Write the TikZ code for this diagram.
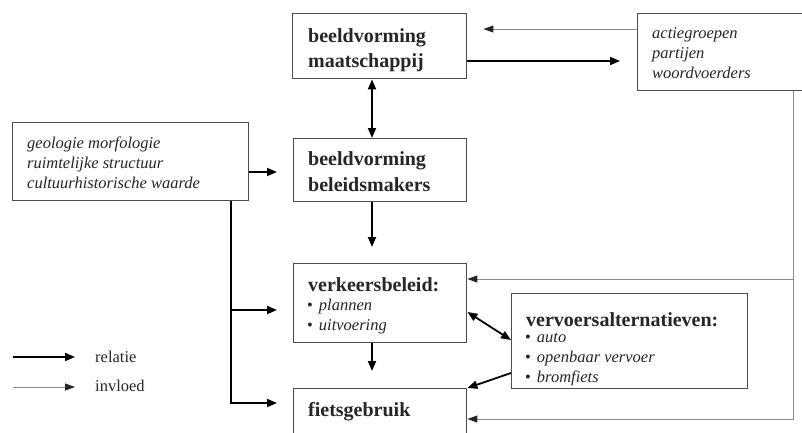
\documentclass[tikz,border=0pt]{standalone}
\usepackage{fontspec}
\setmainfont{Liberation Serif}
\usetikzlibrary{arrows.meta}
\definecolor{boxgray}{gray}{0.30}
\definecolor{infgray}{gray}{0.55}
\definecolor{txt}{gray}{0.15}
\begin{document}
\begin{tikzpicture}[x=1pt,y=-1pt,
  box/.style={draw=boxgray,line width=1.4pt,anchor=north west,inner sep=0pt,fill=white},
  ttl/.style={anchor=base west,inner sep=0pt,align=left,text=txt,font=\fontsize{20}{25.5}\selectfont\bfseries},
  itl/.style={anchor=base west,inner sep=0pt,align=left,text=txt,font=\fontsize{16.5}{20}\selectfont\itshape},
  lgd/.style={anchor=base west,inner sep=0pt,text=txt,font=\fontsize{16.5}{20}\selectfont},
  rel/.style={draw=black,line width=1.8pt,-{Triangle[length=10pt,width=8pt]}},
  inf/.style={draw=infgray,line width=0.9pt,-{Triangle[length=10pt,width=7pt,color=black!85]}}]
\useasboundingbox (0,0) rectangle (802,432);

% boxes
\node[box,minimum width=174pt,minimum height=65pt] (bm) at (292,13) {};
\node[box,minimum width=170pt,minimum height=77pt] (ag) at (637,13) {};
\node[box,minimum width=236pt,minimum height=78pt] (geo) at (12,122) {};
\node[box,minimum width=173pt,minimum height=63pt] (bl) at (293,138) {};
\node[box,minimum width=173pt,minimum height=79pt] (vb) at (293,263) {};
\node[box,minimum width=236pt,minimum height=95pt] (va) at (511,293) {};
\node[box,minimum width=173pt,minimum height=46pt] (fg) at (293,388) {};

% texts (base = baseline of the last line)
\node[ttl] (bmT) at (308,67.5) {beeldvorming\\maatschappij};
\node[itl] (agT) at (652,78) {actiegroepen\\partijen\\woordvoerders};
\node[itl] (geoT) at (27,188) {geologie morfologie\\ruimtelijke structuur\\cultuurhistorische waarde};
\node[ttl] (blT) at (308,191) {beeldvorming\\beleidsmakers};
\node[ttl] (vbT) at (308,291.5) {verkeersbeleid:};
\node[itl] (vbL) at (307,330) {\upshape•\hspace{6pt}\itshape plannen\\\upshape•\hspace{6pt}\itshape uitvoering};
\node[ttl] (vaT) at (526,326) {vervoersalternatieven:};
\node[itl] (vaL) at (525,382) {\upshape•\hspace{6pt}\itshape auto\\\upshape•\hspace{6pt}\itshape openbaar vervoer\\\upshape•\hspace{6pt}\itshape bromfiets};
\node[ttl] (fgT) at (308,416) {fietsgebruik};

% helper coordinates
\coordinate (y29) at (0,29);
\coordinate (y61) at (0,61);
\coordinate (y172) at (0,172);
\coordinate (y279) at (0,279);
\coordinate (y310) at (0,310);
\coordinate (y312) at (0,312);
\coordinate (y340) at (0,340);
\coordinate (y373) at (0,373);
\coordinate (y403) at (0,403);
\coordinate (y419) at (0,419);
\coordinate (x372) at (372,0);
\coordinate (x231) at (231,0);
\coordinate (x793) at (793,0);

% connectors
\draw[inf,shorten >=16pt] (ag.west |- y29) -- (bm.east |- y29);
\draw[rel,shorten >=17pt] (bm.east |- y61) -- (ag.west |- y61);
\draw[rel,{Triangle[length=10pt,width=8pt]}-{Triangle[length=10pt,width=8pt]}] (x372 |- bm.south) -- (x372 |- bl.north);
\draw[rel,shorten >=16pt] (x372 |- bl.south) -- (x372 |- vb.north);
\draw[rel,shorten >=17pt] (x372 |- vb.south) -- (x372 |- fg.north);
\draw[rel,shorten >=16pt] (geo.east |- y172) -- (bl.west |- y172);
\draw[rel,shorten >=16pt] (x231 |- geo.south) -- (x231 |- y403) -- (fg.west |- y403);
\draw[rel,shorten >=16pt] (x231 |- y310) -- (vb.west |- y310);
\draw[rel,{Triangle[length=10pt,width=8pt]}-{Triangle[length=10pt,width=8pt]}] (vb.east |- y312) -- (va.west |- y340);
\draw[rel] (va.west |- y373) -- (fg.north east);
\draw[inf] (x793 |- ag.south) -- (x793 |- y419) -- (fg.east |- y419);
\draw[inf] (x793 |- y279) -- (vb.east |- y279);

% legend
\coordinate (l1a) at (13,357);
\coordinate (l1b) at (75,357);
\coordinate (l2a) at (13,387);
\coordinate (l2b) at (75,387);
\draw[rel] (l1a) -- (l1b);
\draw[inf] (l2a) -- (l2b);
\node[lgd] (relT) at (95,362) {relatie};
\node[lgd] (infT) at (95,391) {invloed};
\end{tikzpicture}
\end{document}
